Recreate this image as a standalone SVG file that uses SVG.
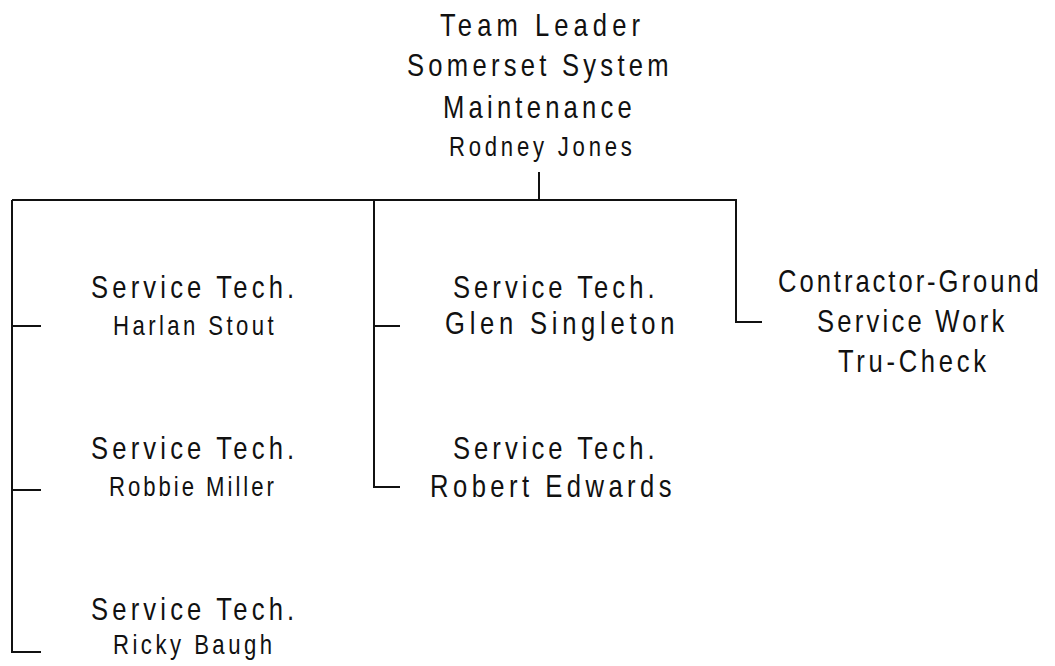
<svg xmlns="http://www.w3.org/2000/svg" width="1055" height="666" viewBox="0 0 1055 666">
<style>
  text { font-family: "Liberation Sans", Arial, sans-serif; fill: #111; }
  .big { font-size: 32px; }
  .small { font-size: 27px; }
  .conn { fill: none; stroke: #111; stroke-width: 2; }
</style>
<rect width="1055" height="666" fill="#fff"/>
<g id="connectors">
  <path class="conn" d="M539,172 V200"/>
  <path class="conn" d="M12,200 H737"/>
  <path class="conn" d="M12,200 V652 H41"/>
  <path class="conn" d="M12,326 H41"/>
  <path class="conn" d="M12,490 H41"/>
  <path class="conn" d="M374,200 V487 H400"/>
  <path class="conn" d="M374,326 H400"/>
  <path class="conn" d="M736,200 V322 H762"/>
</g>
<g id="n-leader">
  <text class="big" transform="translate(440,36) scale(0.8,1)" textLength="250" lengthAdjust="spacing">Team Leader</text>
  <text class="big" transform="translate(407,76) scale(0.8,1)" textLength="327" lengthAdjust="spacing">Somerset System</text>
  <text class="big" transform="translate(443,118) scale(0.8,1)" textLength="236" lengthAdjust="spacing">Maintenance</text>
  <text class="small" transform="translate(449,156) scale(0.82,1)" textLength="223" lengthAdjust="spacing">Rodney Jones</text>
</g>
<g id="n-harlan">
  <text class="big" transform="translate(91,298) scale(0.8,1)" textLength="254" lengthAdjust="spacing">Service Tech.</text>
  <text class="small" transform="translate(113,335) scale(0.82,1)" textLength="196" lengthAdjust="spacing">Harlan Stout</text>
</g>
<g id="n-robbie">
  <text class="big" transform="translate(91,459) scale(0.8,1)" textLength="254" lengthAdjust="spacing">Service Tech.</text>
  <text class="small" transform="translate(109,496) scale(0.82,1)" textLength="201" lengthAdjust="spacing">Robbie Miller</text>
</g>
<g id="n-ricky">
  <text class="big" transform="translate(91,620) scale(0.8,1)" textLength="254" lengthAdjust="spacing">Service Tech.</text>
  <text class="small" transform="translate(113,654) scale(0.82,1)" textLength="194" lengthAdjust="spacing">Ricky Baugh</text>
</g>
<g id="n-glen">
  <text class="big" transform="translate(453,298) scale(0.8,1)" textLength="252" lengthAdjust="spacing">Service Tech.</text>
  <text class="big" transform="translate(445,334) scale(0.8,1)" textLength="287" lengthAdjust="spacing">Glen Singleton</text>
</g>
<g id="n-robert">
  <text class="big" transform="translate(453,459) scale(0.8,1)" textLength="252" lengthAdjust="spacing">Service Tech.</text>
  <text class="big" transform="translate(430,497) scale(0.8,1)" textLength="302" lengthAdjust="spacing">Robert Edwards</text>
</g>
<g id="n-contractor">
  <text class="big" transform="translate(778,292) scale(0.8,1)" textLength="326" lengthAdjust="spacing">Contractor-Ground</text>
  <text class="big" transform="translate(817,332) scale(0.8,1)" textLength="234" lengthAdjust="spacing">Service Work</text>
  <text class="big" transform="translate(838,372) scale(0.8,1)" textLength="185" lengthAdjust="spacing">Tru-Check</text>
</g>
</svg>
